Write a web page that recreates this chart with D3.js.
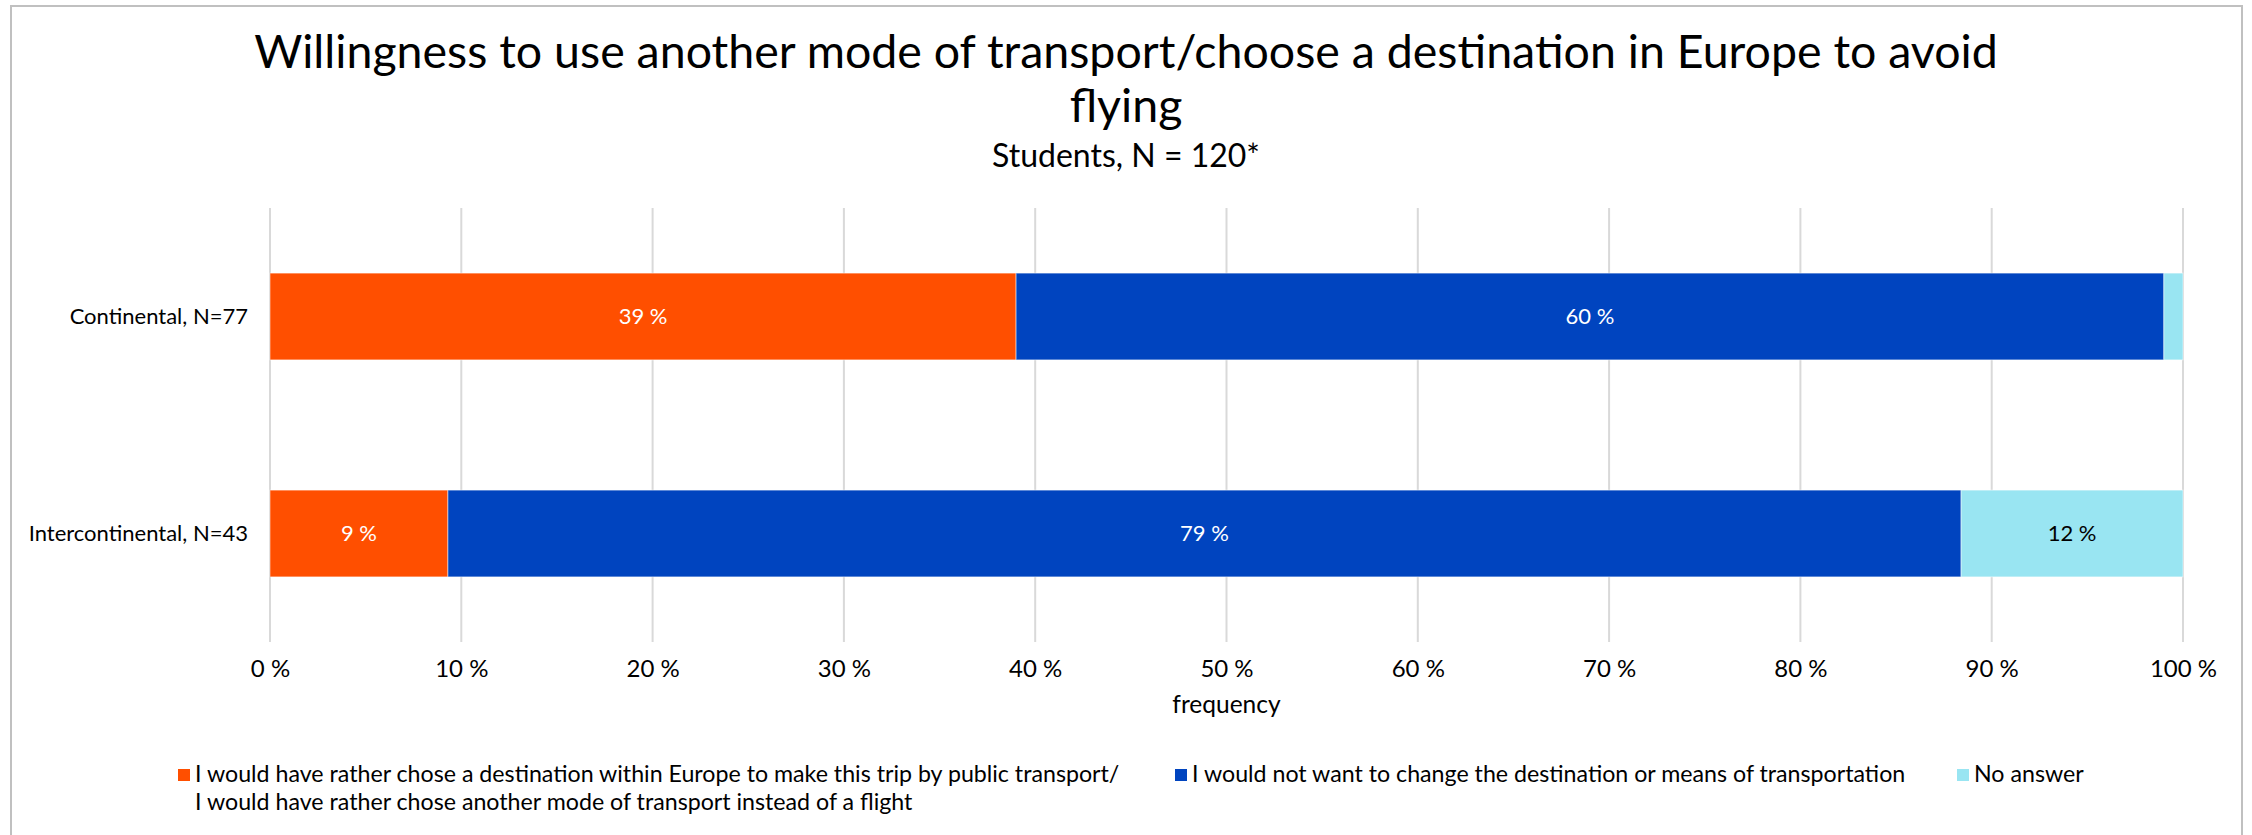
<!DOCTYPE html>
<html>
<head>
<meta charset="utf-8">
<script src="https://cdn.jsdelivr.net/npm/d3@7/dist/d3.min.js"></script>
<style>
  html, body { margin: 0; padding: 0; background: #fff; }
  svg { display: block; }
  text { font-family: Lato, "Open Sans", sans-serif; fill: #000; }
</style>
</head>
<body>
<svg id="chart" width="2252" height="835"></svg>
<script>
// ---- data ----
const titleLines = ["Willingness to use another mode of transport/choose a destination in Europe to avoid", "flying"];
const subtitle = "Students, N = 120*";
const categories = ["Continental, N=77", "Intercontinental, N=43"];
const seriesNames = [
  "I would have rather chose a destination within Europe to make this trip by public transport/ I would have rather chose another mode of transport instead of a flight",
  "I would not want to change the destination or means of transportation",
  "No answer"
];
const legendLines0 = ["I would have rather chose a destination within Europe to make this trip by public transport/", "I would have rather chose another mode of transport instead of a flight"];
const ratherOther = [39.0, 9.3];
const notChange = [60.0, 79.1];
const noAnswer = [1.0, 11.6];
const xTickValues = [0, 10, 20, 30, 40, 50, 60, 70, 80, 90, 100];
const xAxisTitle = "frequency";

const colors = ["#ff4f00", "#0044bf", "#99e5f2"];
const labelColors = ["#ffffff", "#ffffff", "#000000"];

const seriesValues = [ratherOther, notChange, noAnswer];

const svg = d3.select("#chart");

// outer border
svg.append("rect").attr("x", 11).attr("y", 6).attr("width", 2231).attr("height", 840)
  .attr("fill", "none").attr("stroke", "#c0c0c0").attr("stroke-width", 2);

// title
const cx = 1126;
svg.append("text").attr("x", cx).attr("y", 68).attr("text-anchor", "middle")
  .attr("font-size", 46.5).attr("font-weight", 400)
  .text(titleLines[0]);
svg.append("text").attr("x", cx).attr("y", 122).attr("text-anchor", "middle")
  .attr("font-size", 46.5).attr("font-weight", 400)
  .text(titleLines[1]);
svg.append("text").attr("x", cx).attr("y", 167).attr("text-anchor", "middle")
  .attr("font-size", 32)
  .text(subtitle);

// scales
const x = d3.scaleLinear().domain([0, 100]).range([270, 2183]);
const y = d3.scaleBand().domain(categories).range([208, 642]).paddingInner(0.6).paddingOuter(0.3);

// gridlines
svg.append("g").selectAll("line").data(xTickValues).join("line")
  .attr("x1", d => x(d)).attr("x2", d => x(d))
  .attr("y1", 208).attr("y2", 642)
  .attr("stroke", "#d9d9d9").attr("stroke-width", 2);

// x axis labels
const xAxis = d3.axisBottom(x).tickValues(xTickValues).tickFormat(d => d + " %").tickSize(0).tickPadding(0);
const gx = svg.append("g").attr("transform", "translate(0,677)").call(xAxis);
gx.select(".domain").remove();
gx.selectAll("text").attr("font-size", 24).attr("dy", null).attr("y", 0)
  .style("font-family", "Lato, sans-serif").attr("fill", "#000");

// y axis labels
const yAxis = d3.axisLeft(y).tickSize(0).tickPadding(0);
const gy = svg.append("g").attr("transform", "translate(248,0)").call(yAxis);
gy.select(".domain").remove();
gy.selectAll("text").attr("font-size", 22).attr("dy", "0.32em")
  .style("font-family", "Lato, sans-serif").attr("fill", "#000");

// axis title
svg.append("text").attr("x", (x(0) + x(100)) / 2).attr("y", 713).attr("text-anchor", "middle")
  .attr("font-size", 24.5).text(xAxisTitle);

// stacked bars
const rows = categories.map((c, i) => {
  const o = { cat: c };
  seriesNames.forEach((s, k) => o["s" + k] = seriesValues[k][i]);
  return o;
});
const stack = d3.stack().keys(seriesNames.map((s, k) => "s" + k));
const stacked = stack(rows);

const bars = svg.append("g");
stacked.forEach((layer, k) => {
  bars.append("g").selectAll("rect").data(layer).join("rect")
    .attr("x", d => x(d[0]))
    .attr("y", d => y(d.data.cat))
    .attr("width", d => x(d[1]) - x(d[0]))
    .attr("height", y.bandwidth())
    .attr("fill", colors[k])
    .attr("stroke", "#ffffff").attr("stroke-width", 1).attr("stroke-opacity", 0.5);
});
stacked.forEach((layer, k) => {
  bars.append("g").selectAll("text").data(layer.filter(d => d[1] - d[0] >= 3)).join("text")
    .attr("x", d => x((d[0] + d[1]) / 2))
    .attr("y", d => y(d.data.cat) + y.bandwidth() / 2)
    .attr("dy", "0.32em")
    .attr("text-anchor", "middle")
    .attr("font-size", 22).style("fill", labelColors[k])
    .text(d => Math.round(d[1] - d[0]) + " %");
});

// legend
const legend = svg.append("g");
const legItems = [
  { x: 178, lines: legendLines0 },
  { x: 1175, lines: [seriesNames[1]] },
  { x: 1957, lines: [seriesNames[2]] }
];
legItems.forEach((it, k) => {
  legend.append("rect").attr("x", it.x).attr("y", 769).attr("width", 12).attr("height", 12).attr("fill", colors[k]);
  it.lines.forEach((ln, j) => {
    legend.append("text").attr("x", it.x + 17).attr("y", 782 + j * 28)
      .attr("font-size", 23.2).text(ln);
  });
});
</script>
</body>
</html>
